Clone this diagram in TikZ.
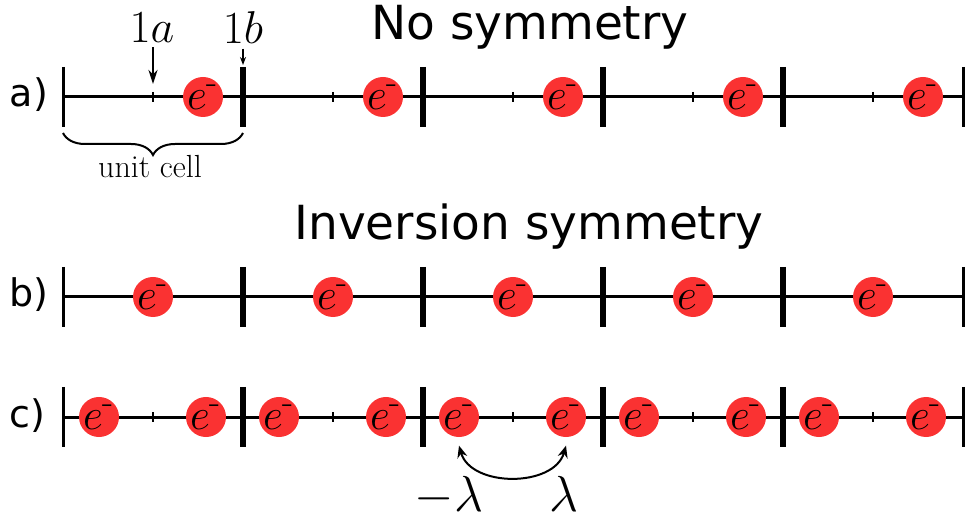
\documentclass[tikz,border=0pt]{standalone}
\usepackage{amsmath}
\usepackage{fontspec}
\newfontfamily\labelfont{DejaVu Sans}
\definecolor{red1}{RGB}{250, 50, 50}
\usetikzlibrary{arrows.meta, positioning, calc, decorations.pathreplacing}

\begin{document}
\begin{tikzpicture}[x=1pt, y=-1pt, line width=3pt,
  elec/.style={circle, fill=red1, minimum size=22.86pt, inner sep=0pt, font=\Huge, scale=1.75},
  cellbar/.style={line width=6pt},
  endbar/.style={line width=3pt},
  sitetick/.style={line width=2pt},
  title/.style={font=\labelfont\fontsize{47}{47}\selectfont, anchor=base},
  rowlabel/.style={font=\labelfont\fontsize{38}{38}\selectfont, anchor=base west},
  mathlabel/.style={font=\Huge, inner sep=1pt, scale=1.85}]
  \useasboundingbox (0,0) rectangle (967,521);

  % titles
  \node[title] (nosym) at (530,40) {No symmetry};
  \node[title] (invsym) at (529,240) {Inversion symmetry};

  % chains
  \foreach \r/\y in {a/97, b/297, c/417} {
    \node[rowlabel] (row\r) at (5,\y+10) {\r)};
    \draw (63,\y) -- (963,\y);
    \draw[endbar] (63,\y-30) -- (63,\y+30);
    \draw[endbar] (963,\y-30) -- (963,\y+30);
    \foreach \x in {243,423,603,783}
      \draw[cellbar] (\x,\y-30) -- (\x,\y+30);
  }

  % sites and electrons
  \foreach \i in {1,...,5} {
    \pgfmathsetmacro\m{153+180*(\i-1)}
    \draw[sitetick] (\m,92) -- (\m,102);
    \draw[sitetick] (\m,412) -- (\m,422);
    \node[elec] (ea\i) at (\m+50,97) {$e^{\text{-}}$};
    \node[elec] (eb\i) at (\m,297) {$e^{\text{-}}$};
    \node[elec] (ecl\i) at (\m-54,417) {$e^{\text{-}}$};
    \node[elec] (ecr\i) at (\m+53,417) {$e^{\text{-}}$};
  }

  % Wyckoff positions
  \node[mathlabel] (wa) at (152,28) {$1a$};
  \node[mathlabel] (wb) at (243,28) {$1b$};
  \coordinate (sitea) at (153,84);
  \coordinate (siteb) at (243,65);
  \draw[line width=2.5pt, -{Stealth[length=14pt, width=9pt]}] (wa.south -| sitea) -- (sitea);
  \draw[line width=1.5pt, -{Stealth[length=8pt, width=6pt]}] (wb.south) -- (siteb);

  % unit cell
  \draw[line width=2pt, decorate, decoration={brace, mirror, amplitude=22pt}] (63,133) -- (243,133);
  \node[font=\fontsize{32}{32}\selectfont, anchor=base] (cell) at (150,178) {unit cell};

  % inversion
  \draw[line width=2pt, {Stealth[length=12pt, width=10pt]}-{Stealth[length=12pt, width=10pt]}]
    ($(ecl3.south)+(0,6)$) .. controls +(12,42) and +(-12,42) .. ($(ecr3.south)+(0,6)$);
  \node[mathlabel, anchor=base, scale=1.1] (lamm) at (449,511) {$-\lambda$};
  \node[mathlabel, anchor=base, scale=1.1] (lamp) at (564,511) {$\lambda$};
\end{tikzpicture}
\end{document}
